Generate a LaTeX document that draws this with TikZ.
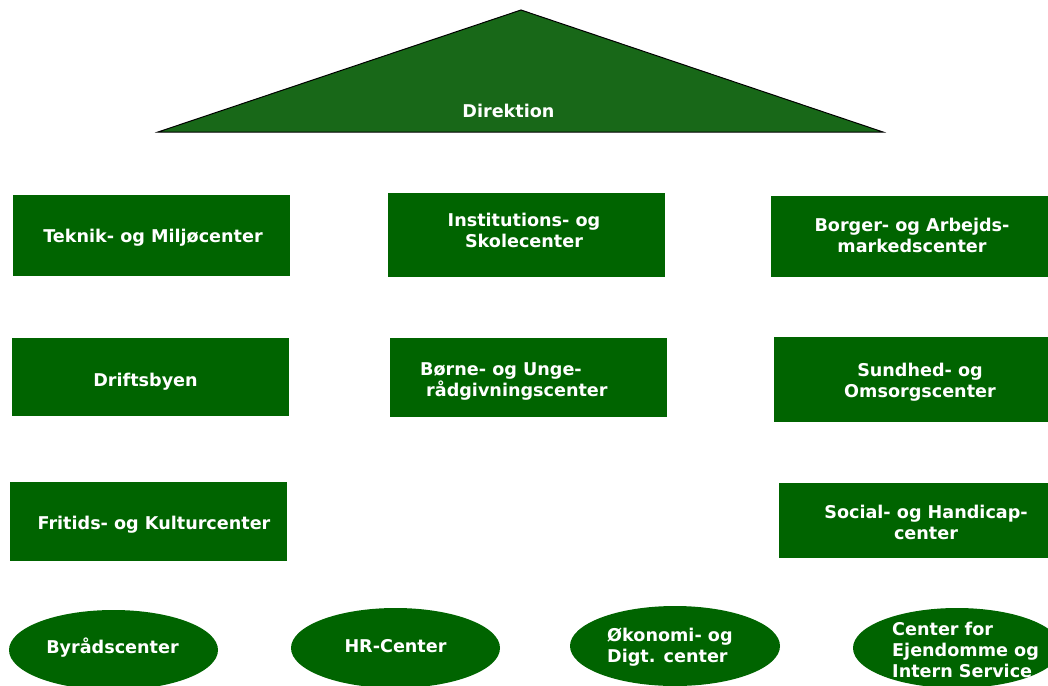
\documentclass[tikz,border=0pt]{standalone}
\usepackage{fontspec}
\setmainfont{DejaVu Sans}
\usetikzlibrary{shapes.geometric}
\definecolor{boxgreen}{RGB}{0,100,0}
\definecolor{trigreen}{RGB}{24,104,24}
\tikzset{
  gbox/.style={rectangle, fill=boxgreen, draw=none, inner sep=0pt},
  gell/.style={ellipse, fill=boxgreen, draw=none, inner sep=0pt},
  lbl/.style={text=white, font=\fontsize{17.6}{21}\selectfont\bfseries, inner sep=0pt, align=center},
  lbll/.style={text=white, font=\fontsize{17.6}{21}\selectfont\bfseries, inner sep=0pt, align=left, anchor=west}
}
\begin{document}
\begin{tikzpicture}[x=1pt,y=-1pt]
\useasboundingbox (0,0) rectangle (1048,685);
\clip (0,0) rectangle (1048,685);
% Direktion triangle
\draw[fill=trigreen, draw=black, line width=1pt, line join=miter] (521,10) -- (883,132) -- (158,132) -- cycle;
\node[lbl] (dir) at (508.5,110.5) {Direktion};
% boxes
\node[gbox, minimum width=277pt, minimum height=81pt] (b1) at (151.5,235.5) {};
\node[lbl] (t1) at (153,237.5) {Teknik- og Miljøcenter};
\node[gbox, minimum width=277pt, minimum height=84pt] (b2) at (526.5,235) {};
\node[lbl] (t2) at (524,230.5) {Institutions- og\\Skolecenter};
\node[gbox, minimum width=277pt, minimum height=81pt] (b3) at (909.5,236.5) {};
\node[lbl] (t3) at (912,235.5) {Borger- og Arbejds-\\markedscenter};
\node[gbox, minimum width=277pt, minimum height=78pt] (b4) at (150.5,377) {};
\node[lbl] (t4) at (145.5,381.5) {Driftsbyen};
\node[gbox, minimum width=277pt, minimum height=79pt] (b5) at (528.5,377.5) {};
\node[lbll] (t5) at (420,381.5) {Børne- og Unge-\\\hspace*{6pt}rådgivningscenter};
\node[gbox, minimum width=274pt, minimum height=85pt] (b6) at (911,379.5) {};
\node[lbl] (t6) at (920,382.5) {Sundhed- og\\Omsorgscenter};
\node[gbox, minimum width=277pt, minimum height=79pt] (b7) at (148.5,521.5) {};
\node[lbl] (t7) at (154,524.5) {Fritids- og Kulturcenter};
\node[gbox, minimum width=269pt, minimum height=75pt] (b8) at (913.5,520.5) {};
\node[lbl] (t8) at (926,522) {Social- og Handicap-\\center};
% ellipses
\node[gell, minimum width=209pt, minimum height=80pt] (e1) at (113.5,650) {};
\node[lbl] (s1) at (112.5,647.5) {Byrådscenter};
\node[gell, minimum width=209pt, minimum height=80pt] (e2) at (395.5,648) {};
\node[lbl] (s2) at (395.5,646.5) {HR-Center};
\node[gell, minimum width=210pt, minimum height=80pt] (e3) at (675,646) {};
\node[lbll] (s3) at (607,647) {Økonomi- og\\Digt. center};
\node[gell, minimum width=208pt, minimum height=80pt] (e4) at (957,648) {};
\node[lbll] (s4) at (892,649.5) {Center for\\Ejendomme og\\Intern Service};
\end{tikzpicture}
\end{document}
